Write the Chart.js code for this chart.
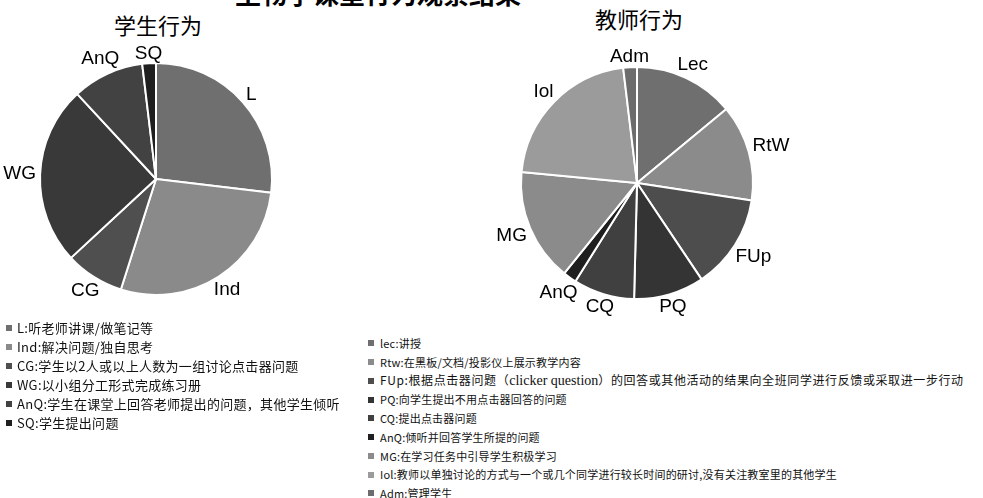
<!DOCTYPE html>
<html>
<head>
<meta charset="utf-8">
<script src="https://cdn.jsdelivr.net/npm/chart.js@4.4.0/dist/chart.umd.min.js"></script>
<style>
    body { margin: 0; background: #fff; width: 983px; height: 498px; overflow: hidden; position: relative; font-family: 'Noto Sans CJK SC', sans-serif; }
    .main-title { position: absolute; left: 230px; width: 296px; top: -26px; text-align: center; font-size: 26px; font-weight: bold; white-space: nowrap; color: #000; }
    .pie-title { position: absolute; font-size: 22px; color: #000; text-align: center; width: 200px; line-height: 26px; }
    canvas { position: absolute; }
    .legend { position: absolute; margin: 0; padding: 0; list-style: none; color: #111; white-space: nowrap; }
    .legend li { display: flex; align-items: center; }
    .legend .sw { width: 6px; height: 6px; margin-right: 5px; flex: none; }
    #studentLegend { font-size: 13px; letter-spacing: 0.3px; }
    #studentLegend li { height: 19px; line-height: 19px; }
    #teacherLegend { font-size: 11px; letter-spacing: 0.2px; }
    #teacherLegend li { height: 18.75px; line-height: 18.75px; }
    #teacherLegend li:nth-child(3) { font-size: 12px; letter-spacing: 0.6px; }
    #teacherLegend .sw { margin-right: 6px; }
    .serif { font-family: 'Liberation Serif', serif; font-size: 14px; letter-spacing: 0; }
</style>
</head>
<body>

<div class="main-title">生物学课堂行为观察结果</div>
<div class="pie-title" style="left:58px; top:11px;">学生行为</div>
<div class="pie-title" style="left:539px; top:5px;">教师行为</div>

<canvas id="studentChart" width="320" height="320" style="left:0; top:0;"></canvas>
<canvas id="teacherChart" width="320" height="320" style="left:480px; top:0;"></canvas>

<ul class="legend" id="studentLegend" style="left:6px; top:318px;"></ul>
<ul class="legend" id="teacherLegend" style="left:368px; top:334px; width:615px; overflow:hidden;"></ul>

<script>
// student behaviour (percent of observed time)
const studentCodes = ['L', 'Ind', 'CG', 'WG', 'AnQ', 'SQ'];
const studentValues = [26.9, 28.0, 8.2, 25.0, 10.0, 1.9];
const studentColors = ['#6f6f6f', '#8a8a8a', '#4f4f4f', '#393939', '#424242', '#1f1f1f'];
const studentLegendText = [
    'L:听老师讲课/做笔记等',
    'Ind:解决问题/独自思考',
    'CG:学生以2人或以上人数为一组讨论点击器问题',
    'WG:以小组分工形式完成练习册',
    'AnQ:学生在课堂上回答老师提出的问题，其他学生倾听',
    'SQ:学生提出问题'
];

// teacher behaviour
const teacherCodes = ['Lec', 'RtW', 'FUp', 'PQ', 'CQ', 'AnQ', 'MG', 'Iol', 'Adm'];
const teacherValues = [14.0, 13.4, 13.2, 9.8, 8.5, 1.9, 15.7, 21.6, 1.9];
const teacherColors = ['#6f6f6f', '#8b8b8b', '#4d4d4d', '#343434', '#404040', '#1f1f1f', '#8b8b8b', '#9b9b9b', '#6c6c6c'];
const teacherLegendText = [
    'lec:讲授',
    'Rtw:在黑板/文档/投影仪上展示教学内容',
    'FUp:根据点击器问题（clicker question）的回答或其他活动的结果向全班同学进行反馈或采取进一步行动',
    'PQ:向学生提出不用点击器回答的问题',
    'CQ:提出点击器问题',
    'AnQ:倾听并回答学生所提的问题',
    'MG:在学习任务中引导学生积极学习',
    'Iol:教师以单独讨论的方式与一个或几个同学进行较长时间的研讨,没有关注教室里的其他学生',
    'Adm:管理学生'
];

// labels outside each slice, pushed out by half the text box
const outsideLabels = {
    id: 'outsideLabels',
    afterDatasetsDraw(chart) {
        const ctx = chart.ctx;
        const meta = chart.getDatasetMeta(0);
        const labels = chart.data.labels;
        ctx.save();
        ctx.font = '19px "Liberation Sans", sans-serif';
        ctx.fillStyle = '#000';
        ctx.textAlign = 'center';
        ctx.textBaseline = 'middle';
        meta.data.forEach((arc, i) => {
            const p = arc.getProps(['x', 'y', 'startAngle', 'endAngle', 'outerRadius'], true);
            const mid = (p.startAngle + p.endAngle) / 2;
            const w = ctx.measureText(labels[i]).width;
            const h = 10;
            const off = p.outerRadius + 4 + Math.abs(Math.cos(mid)) * w / 2 + Math.abs(Math.sin(mid)) * h / 2;
            ctx.fillText(labels[i], p.x + Math.cos(mid) * off, p.y + Math.sin(mid) * off);
        });
        ctx.restore();
    }
};

function makePie(id, labels, values, colors, padding) {
    new Chart(document.getElementById(id), {
        type: 'pie',
        data: {
            labels: labels,
            datasets: [{
                data: values,
                backgroundColor: colors,
                borderColor: '#ffffff',
                borderWidth: 2
            }]
        },
        options: {
            responsive: false,
            animation: false,
            layout: { padding: padding },
            plugins: {
                legend: { display: false },
                tooltip: { enabled: false }
            }
        },
        plugins: [outsideLabels]
    });
}

makePie('studentChart', studentCodes, studentValues, studentColors, { left: 39, top: 62, right: 47, bottom: 24 });
makePie('teacherChart', teacherCodes, teacherValues, teacherColors, { left: 40, top: 66, right: 46, bottom: 20 });

function fillLegend(id, texts, colors) {
    const ul = document.getElementById(id);
    texts.forEach((t, i) => {
        const li = document.createElement('li');
        // english phrases in the notes are set in a serif face
        const body = t.replace(/([a-z]{3,} [a-z]+)/g, '<span class="serif">$1</span>');
        li.innerHTML = `<span class="sw" style="background:${colors[i]}"></span><span>${body}</span>`;
        ul.appendChild(li);
    });
}

fillLegend('studentLegend', studentLegendText, studentColors);
fillLegend('teacherLegend', teacherLegendText, teacherColors);
</script>
</body>
</html>
